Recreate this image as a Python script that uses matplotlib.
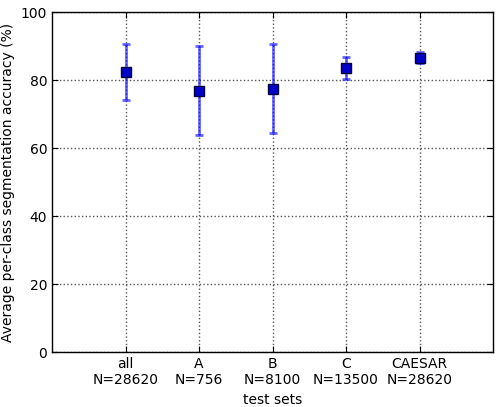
import matplotlib
matplotlib.use("Agg")
import matplotlib.pyplot as plt

# test sets and accuracy stats
labels = ["all\nN=28620", "A\nN=756", "B\nN=8100", "C\nN=13500", "CAESAR\nN=28620"]
means = [82.4, 76.9, 77.5, 83.6, 86.6]
upper = [90.6, 90.1, 90.5, 86.7, 88.3]
lower = [74.1, 63.7, 64.4, 80.4, 84.9]

pos = list(range(1, len(labels) + 1))
err_lo = [m - l for m, l in zip(means, lower)]
err_hi = [u - m for m, u in zip(means, upper)]

fig = plt.figure(figsize=(5.01, 4.07), dpi=100)
ax = fig.add_axes([52 / 501, 1 - 352 / 407, 441 / 501, 340 / 407])

ax.errorbar(pos, means, yerr=[err_lo, err_hi], fmt="none", ecolor="blue",
            elinewidth=2, capsize=3, capthick=2, alpha=0.6, zorder=3)
ax.plot(pos, means, "s", color="#0000c8", markeredgecolor="#000040",
        markeredgewidth=1, markersize=6.5, zorder=4)

ax.set_xlim(0, 6)
ax.set_ylim(0, 100)
ax.set_xticks(pos)
ax.set_xticklabels(labels)
ax.set_yticks(range(0, 101, 20))
ax.tick_params(direction="in", top=True, right=True, labelsize=10, length=4)
ax.grid(True, linestyle=":", color="#555555", linewidth=1)
for s in ax.spines.values():
    s.set_linewidth(1)

ax.set_xlabel("test sets", fontsize=10)
ax.set_ylabel("Average per-class segmentation accuracy (%)", fontsize=10)

fig.savefig("out.png", dpi=100)
